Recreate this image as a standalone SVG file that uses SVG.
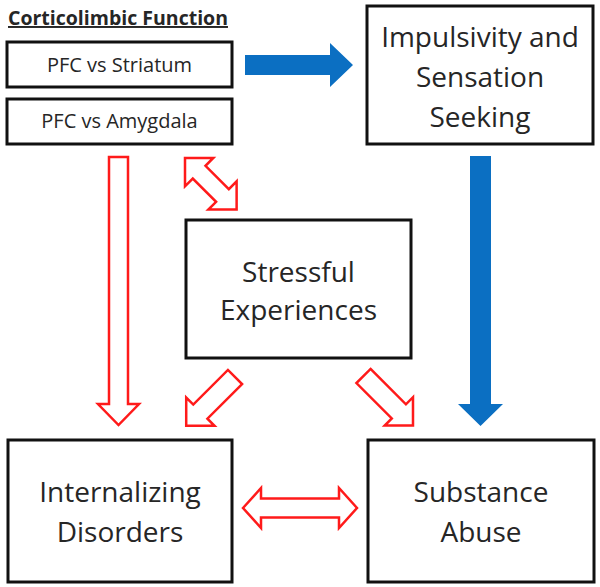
<svg xmlns="http://www.w3.org/2000/svg" width="600" height="587" viewBox="0 0 600 587">
  <style>
    .box { fill: #ffffff; stroke: #111111; stroke-width: 3; }
    .lbl { font-family: "Open Sans", "Liberation Sans", sans-serif; font-size: 28px; fill: #262626; text-anchor: middle; }
    .sm { font-family: "Open Sans", "Liberation Sans", sans-serif; font-size: 20px; fill: #262626; text-anchor: middle; }
    .title { font-family: "Open Sans", "Liberation Sans", sans-serif; font-size: 19.5px; font-weight: bold; fill: #262626; text-decoration: underline; }
    .red { fill: #ffffff; stroke: #ff1a1a; stroke-width: 2.5; stroke-linejoin: miter; }
    .blue { fill: #0b6fc2; stroke: none; }
  </style>
  <rect width="600" height="587" fill="#ffffff"/>

  <text class="title" x="8" y="25">Corticolimbic Function</text>

  <g id="pfc-striatum">
    <rect class="box" x="7" y="42" width="225" height="45"/>
    <text class="sm" x="119.5" y="72">PFC vs Striatum</text>
  </g>
  <g id="pfc-amygdala">
    <rect class="box" x="7" y="99" width="225" height="45"/>
    <text class="sm" x="119.5" y="128">PFC vs Amygdala</text>
  </g>
  <g id="impulsivity">
    <rect class="box" x="367" y="6" width="226" height="138"/>
    <text class="lbl" x="480" y="47">Impulsivity and</text>
    <text class="lbl" x="480" y="87">Sensation</text>
    <text class="lbl" x="480" y="127">Seeking</text>
  </g>
  <g id="stressful">
    <rect class="box" x="186" y="220" width="225" height="138"/>
    <text class="lbl" x="298.5" y="282">Stressful</text>
    <text class="lbl" x="298.5" y="320">Experiences</text>
  </g>
  <g id="internalizing">
    <rect class="box" x="8" y="440" width="224" height="142"/>
    <text class="lbl" x="120" y="502">Internalizing</text>
    <text class="lbl" x="120" y="542">Disorders</text>
  </g>
  <g id="substance">
    <rect class="box" x="368" y="440" width="226" height="142"/>
    <text class="lbl" x="481" y="502">Substance</text>
    <text class="lbl" x="481" y="542">Abuse</text>
  </g>

  <g id="connectors">
    <polygon class="blue" points="245,55 330,55 330,43 353,65 330,87 330,75 245,75"/>
    <polygon class="blue" points="470,156 491,156 491,404 503,404 480.5,426 458,404 470,404"/>
    <polygon class="red" points="109,157 128,157 128,404 139,404 118.5,425 98,404 109,404"/>
    <polygon class="red" transform="translate(185,158) rotate(45)" points="0,0 20,-20 20,-9 53,-9 53,-20 73,0 53,20 53,9 20,9 20,20"/>
    <polygon class="red" transform="translate(235,377) rotate(135)" points="0,-10 49,-10 49,-20 69,0 49,20 49,10 0,10"/>
    <polygon class="red" transform="translate(363.5,376) rotate(45)" points="0,-10 50,-10 50,-20 70,0 50,20 50,10 0,10"/>
    <polygon class="red" points="243,508 261,488 261,498.5 339,498.5 339,488 357,508 339,528 339,517.5 261,517.5 261,528"/>
  </g>
</svg>
